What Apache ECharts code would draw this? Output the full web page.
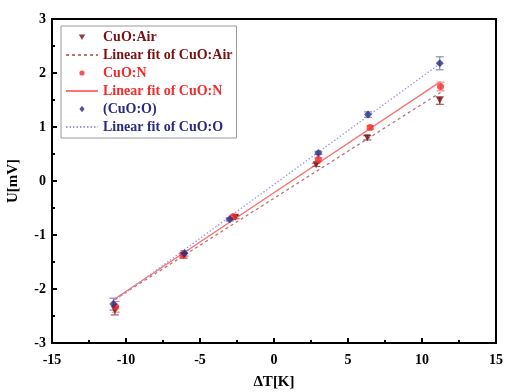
<!DOCTYPE html>
<html><head><meta charset="utf-8">
<script src="https://cdn.jsdelivr.net/npm/echarts@6/dist/echarts.min.js"></script>
<style>html,body{margin:0;padding:0;background:#fff}#c{width:506px;height:392px}</style>
</head><body><div id="c"></div>
<script>
const xTicks = [-15, -10, -5, 0, 5, 10, 15];
const yTicks = [-3, -2, -1, 0, 1, 2, 3];

const airX = [-10.75, -6.1, -2.6, 2.85, 6.3, 11.2];
const airY = [-2.40, -1.38, -0.67, 0.30, 0.80, 1.49];
const airErr = [0.08, 0.05, 0.03, 0.03, 0.04, 0.07];

const nX = [-10.7, -6.15, -2.75, 3.0, 6.5, 11.25];
const nY = [-2.33, -1.37, -0.66, 0.40, 0.99, 1.75];
const nErr = [0.10, 0.05, 0.03, 0.03, 0.03, 0.08];

const oX = [-10.85, -6.05, -3.0, 3.0, 6.35, 11.2];
const oY = [-2.28, -1.34, -0.71, 0.52, 1.23, 2.18];
const oErr = [0.11, 0.05, 0.03, 0.03, 0.05, 0.12];

const airFitX = [-10.8, 11.25];
const airFitY = [-2.20, 1.64];
const nFitX = [-10.8, 11.25];
const nFitY = [-2.19, 1.84];
const oFitX = [-10.85, 11.2];
const oFitY = [-2.23, 2.17];

const names = ['CuO:Air', 'Linear fit of CuO:Air', 'CuO:N', 'Linear fit of CuO:N', '(CuO:O)', 'Linear fit of CuO:O'];

const cAir = '#7a1010', cN = '#f52a2a', cO = '#2a2a80';
const cAirFit = '#b97474', cNFit = '#ff7070', cOFit = '#9a9ae0';
const cAirErr = '#a65a5a', cNErr = '#f58a8a', cOErr = '#8a8ac0';

const FONT = 'Liberation Serif';
const downTri = 'path://M0,0 L10,0 L5,10 Z';
// legend icons: small shapes padded inside a 14x14 box
const legTri = 'path://M-7,-7 M7,7 M-3.2,-2.6 L3.2,-2.6 L0,3.0 Z';
const legDot = 'path://M-7,-7 M7,7 M2.6,0 A2.6,2.6 0 1 1 -2.6,0 A2.6,2.6 0 1 1 2.6,0 Z';
const legDia = 'path://M-7,-7 M7,7 M0,-3.2 L2.6,0 L0,3.2 L-2.6,0 Z';

function pairs(xs, ys) { return xs.map((x, i) => [x, ys[i]]); }
function errData(xs, ys, es) { return xs.map((x, i) => [x, ys[i] - es[i], ys[i] + es[i]]); }

function errSeries(xs, ys, es, color) {
  return {
    type: 'custom', silent: true, z: 2,
    data: errData(xs, ys, es),
    renderItem: function (params, api) {
      const x = api.value(0);
      const lo = api.coord([x, api.value(1)]);
      const hi = api.coord([x, api.value(2)]);
      const w = 4;
      const st = { stroke: color, lineWidth: 1.2 };
      return {
        type: 'group', children: [
          { type: 'line', shape: { x1: lo[0], y1: lo[1], x2: hi[0], y2: hi[1] }, style: st },
          { type: 'line', shape: { x1: lo[0] - w, y1: lo[1], x2: lo[0] + w, y2: lo[1] }, style: st },
          { type: 'line', shape: { x1: hi[0] - w, y1: hi[1], x2: hi[0] + w, y2: hi[1] }, style: st }
        ]
      };
    }
  };
}

const chart = echarts.init(document.getElementById('c'), null, { renderer: 'canvas' });
const axisLabel = { color: '#000', fontFamily: FONT, fontWeight: 'bold', fontSize: 14 };
const hideSym = { opacity: 0 };
chart.setOption({
  animation: false,
  backgroundColor: '#fff',
  grid: { left: 52, right: 10, top: 19, bottom: 49, show: true, borderColor: '#000', borderWidth: 2,
          containLabel: false, outerBoundsMode: 'none' },
  legend: {
    orient: 'vertical', left: 61, top: 26,
    itemWidth: 32, itemHeight: 14, itemGap: 4,
    padding: [4, 4, 4, 4],
    borderColor: '#999', borderWidth: 1, backgroundColor: '#fff',
    textStyle: { fontFamily: FONT, fontWeight: 'bold', fontSize: 14 },
    data: [
      { name: names[0], icon: legTri, itemStyle: { color: cAir }, textStyle: { color: cAir } },
      { name: names[1], itemStyle: hideSym, textStyle: { color: cAir } },
      { name: names[2], icon: legDot, itemStyle: { color: cN }, textStyle: { color: cN } },
      { name: names[3], itemStyle: hideSym, textStyle: { color: cN } },
      { name: names[4], icon: legDia, itemStyle: { color: cO }, textStyle: { color: cO } },
      { name: names[5], itemStyle: hideSym, textStyle: { color: cO } }
    ]
  },
  xAxis: {
    type: 'value', min: xTicks[0], max: xTicks[xTicks.length - 1], interval: 5,
    name: 'ΔT[K]', nameLocation: 'middle', nameGap: 32,
    nameTextStyle: { color: '#000', fontFamily: FONT, fontWeight: 'bold', fontSize: 15 },
    axisLine: { show: true, onZero: false, lineStyle: { color: '#000', width: 2 } },
    axisTick: { show: true, inside: true, length: 5, lineStyle: { color: '#000', width: 2 } },
    minorTick: { show: true, splitNumber: 2, length: 3, lineStyle: { color: '#000', width: 2 } },
    splitLine: { show: false },
    axisLabel: Object.assign({ margin: 10 }, axisLabel)
  },
  yAxis: {
    type: 'value', min: yTicks[0], max: yTicks[yTicks.length - 1], interval: 1,
    name: 'U[mV]', nameLocation: 'middle', nameGap: 31, nameRotate: 90,
    nameTextStyle: { color: '#000', fontFamily: FONT, fontWeight: 'bold', fontSize: 15 },
    axisLine: { show: true, onZero: false, lineStyle: { color: '#000', width: 2 } },
    axisTick: { show: true, inside: true, length: 5, lineStyle: { color: '#000', width: 2 } },
    minorTick: { show: true, splitNumber: 2, length: 3, lineStyle: { color: '#000', width: 2 } },
    splitLine: { show: false },
    axisLabel: Object.assign({ margin: 6 }, axisLabel)
  },
  series: [
    errSeries(airX, airY, airErr, cAirErr),
    errSeries(nX, nY, nErr, cNErr),
    errSeries(oX, oY, oErr, cOErr),
    { name: names[1], type: 'line', data: pairs(airFitX, airFitY), symbol: 'none', z: 1,
      lineStyle: { color: cAirFit, width: 1.3, type: [3, 3] }, itemStyle: { color: cAirFit } },
    { name: names[3], type: 'line', data: pairs(nFitX, nFitY), symbol: 'none', z: 1,
      lineStyle: { color: cNFit, width: 1.3, type: 'solid' }, itemStyle: { color: cNFit } },
    { name: names[5], type: 'line', data: pairs(oFitX, oFitY), symbol: 'none', z: 1,
      lineStyle: { color: cOFit, width: 1.3, type: [1.5, 2] }, itemStyle: { color: cOFit } },
    { name: names[0], type: 'scatter', data: pairs(airX, airY), symbol: downTri, symbolSize: 7, z: 3,
      itemStyle: { color: cAir } },
    { name: names[2], type: 'scatter', data: pairs(nX, nY), symbol: 'circle', symbolSize: 7, z: 3,
      itemStyle: { color: cN } },
    { name: names[4], type: 'scatter', data: pairs(oX, oY), symbol: 'diamond', symbolSize: 8, z: 3,
      itemStyle: { color: cO } }
  ]
});
</script></body></html>
